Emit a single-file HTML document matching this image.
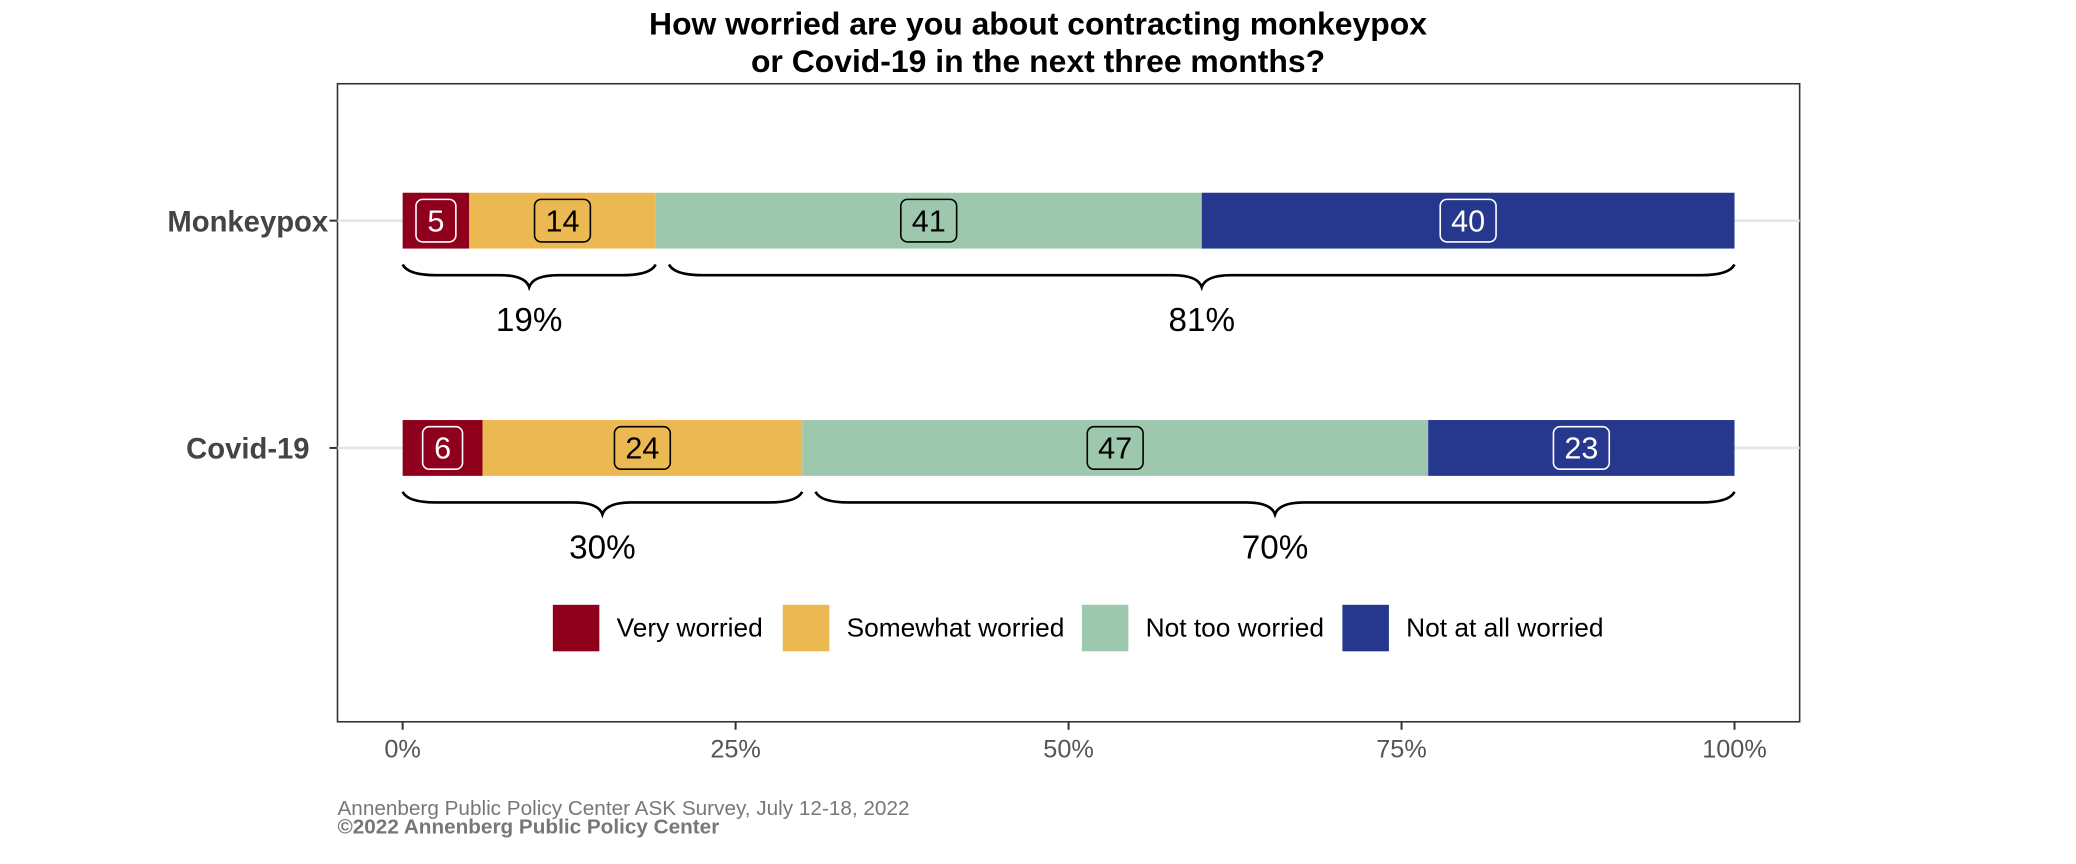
<!DOCTYPE html>
<html><head><meta charset="utf-8"><style>
html,body{margin:0;padding:0;background:#fff;}
svg{display:block;font-family:"Liberation Sans",Arial,sans-serif;}
</style></head><body>
<svg id="chart" width="2076" height="864" viewBox="0 0 1560 650" xmlns="http://www.w3.org/2000/svg">
<text x="780" y="26" text-anchor="middle" font-size="24" font-weight="bold" fill="#000">How worried are you about contracting monkeypox</text>
<text x="780" y="54" text-anchor="middle" font-size="24" font-weight="bold" fill="#000">or Covid-19 in the next three months?</text>
<rect x="253" y="63" width="1100" height="480" fill="#fff" stroke="#333" stroke-width="1.2"/>
<g id="marks"></g>
<text x="253" y="613" font-size="15.6" fill="#777">Annenberg Public Policy Center ASK Survey, July 12-18, 2022</text>
<text x="253" y="627" font-size="15.6" font-weight="bold" fill="#777">©2022 Annenberg Public Policy Center</text>
</svg>
<script>
const categories = ['Monkeypox','Covid-19'];
const seriesNames = ['Very worried','Somewhat worried','Not too worried','Not at all worried'];
const veryWorried = [5,6];
const somewhatWorried = [14,24];
const notTooWorried = [41,47];
const notAtAllWorried = [40,23];
const worriedTotal = [19,30];
const notWorriedTotal = [81,70];
const xTicks = [0,25,50,75,100];
const xTickLabels = ['0%','25%','50%','75%','100%'];

const colors = ['#8e001c','#ecb851','#9ec8ad','#26388e'];
const labelStroke = ['#fff','#000','#000','#fff'];
const labelFill = ['#fff','#000','#000','#fff'];
const NS = 'http://www.w3.org/2000/svg';
const g = document.getElementById('marks');
const xs = v => 302 + v * (1304 - 302) / 100;
const ys = i => 166 + i * 171;
function el(tag, attrs, text){
  const e = document.createElementNS(NS, tag);
  for (const k in attrs) e.setAttribute(k, attrs[k]);
  if (text !== undefined) e.textContent = text;
  g.appendChild(e);
  return e;
}
categories.forEach((c, i) => {
  const gl = el('line', {x1:253, x2:1353, y1:ys(i), y2:ys(i), stroke:'#e6e6e6', 'stroke-width':2});
  
  
  const tk = el('line', {x1:247, x2:253, y1:ys(i), y2:ys(i), stroke:'#333', 'stroke-width':1.5});
  
  
  const t = el('text', {x:i === 0 ? 246 : 232, y:ys(i)+8, 'text-anchor':'end', 'font-size':22, 'font-weight':'bold', fill:'#444'}, c);
  
  
});
const series = [veryWorried, somewhatWorried, notTooWorried, notAtAllWorried];
categories.forEach((c, i) => {
  let cum = 0;
  series.forEach((s, k) => {
    const v = s[i];
    const x0 = xs(cum), x1 = xs(cum + v);
    const r = el('rect', {x:x0, y:ys(i)-21, width:x1-x0, height:42, fill:colors[k]});
    
    
    const cx = (x0 + x1) / 2;
    const w = String(v).length > 1 ? 42 : 30;
    const b = el('rect', {x:cx-w/2, y:ys(i)-16, width:w, height:32, rx:5, fill:'none', stroke:labelStroke[k], 'stroke-width':1.2});
    
    
    const t = el('text', {x:cx, y:ys(i)+8, 'text-anchor':'middle', 'font-size':23, fill:labelFill[k]}, String(v));
    
    
    cum += v;
  });
  const by = ys(i) + 33;
  const brace = (a, bEnd, label) => {
    const xa = xs(a), xb = xs(bEnd), m = (xa + xb) / 2;
    const d = `M${xa},${by} Q${xa+4},${by+8} ${xa+25},${by+8} L${m-22},${by+8} Q${m-3},${by+8} ${m},${by+17} Q${m+3},${by+8} ${m+22},${by+8} L${xb-25},${by+8} Q${xb-4},${by+8} ${xb},${by}`;
    const p = el('path', {d:d, fill:'none', stroke:'#000', 'stroke-width':2});
    
    
    const t = el('text', {x:m, y:by+50, 'text-anchor':'middle', 'font-size':25, fill:'#000'}, label + '%');
    
    
  };
  brace(0, worriedTotal[i], worriedTotal[i]);
  brace(worriedTotal[i] + 1, 100, notWorriedTotal[i]);
});
xTicks.forEach((v, j) => {
  const tk = el('line', {x1:xs(v), x2:xs(v), y1:543, y2:549, stroke:'#333', 'stroke-width':1.5});
  
  
  const t = el('text', {x:xs(v), y:570, 'text-anchor':'middle', 'font-size':19, fill:'#555'}, xTickLabels[j]);
  
  
});
const keyX = [415, 588, 813, 1009];
seriesNames.forEach((n, k) => {
  const r = el('rect', {x:keyX[k], y:455, width:35, height:35, fill:colors[k]});
  
  
  const t = el('text', {x:keyX[k]+48, y:479, 'font-size':19.8, fill:'#000'}, n);
  
  
});
</script>
</body></html>
